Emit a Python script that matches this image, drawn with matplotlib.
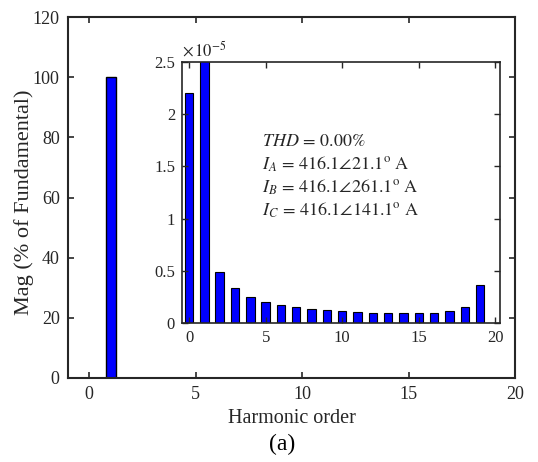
import matplotlib
matplotlib.use("Agg")
import matplotlib.pyplot as plt
import numpy as np

plt.rcParams['font.family'] = ['Liberation Serif', 'DejaVu Serif']
plt.rcParams['mathtext.fontset'] = 'stix'

# Main spectrum (% of fundamental)
main_orders = [1]
main_mag = [100]

# Inset spectrum (values in units of 1e-5 %)
inset_orders = list(range(20))
inset_mag = [2.2, 2.7, 0.487, 0.334, 0.25, 0.204, 0.172, 0.153, 0.134, 0.121,
             0.111, 0.102, 0.099, 0.096, 0.092, 0.092, 0.099, 0.111, 0.153, 0.366]

main_xticks = [0, 5, 10, 15, 20]
main_yticks = [0, 20, 40, 60, 80, 100, 120]
inset_xticks = [0, 5, 10, 15, 20]
inset_yticks = [0, 0.5, 1, 1.5, 2, 2.5]
inset_yticklabels = ['0', '0.5', '1', '1.5', '2', '2.5']

W, H = 538, 462
fig = plt.figure(figsize=(W/100, H/100), dpi=100)

def rect(l, t, r, b):
    return [l/W, 1 - b/H, (r - l)/W, (b - t)/H]

ax = fig.add_axes(rect(68, 17, 515, 378))
ax.bar(main_orders, main_mag, width=0.47, color='#0000ff', edgecolor='black', linewidth=1)
ax.set_xlim(-1, 20)
ax.set_ylim(0, 120)
ax.set_xticks(main_xticks)
ax.set_yticks(main_yticks)
ax.tick_params(direction='in', top=True, right=True, labelsize=13, length=4, width=1.2, pad=6,
               colors='#262626')
for s in ax.spines.values():
    s.set_linewidth(1.5)
    s.set_color('#262626')
ax.set_xlabel('Harmonic order', fontsize=14.5, color='#262626', labelpad=4)
fig.text(24/W, 1 - 202/H, 'Mag (% of Fundamental)', fontsize=16, rotation=90,
         ha='center', va='center', color='#262626')
fig.text(282/W, 1 - 444/H, '(a)', fontsize=17, ha='center', va='center')

ins = fig.add_axes(rect(182, 62, 500, 323))
ins.bar(inset_orders, inset_mag, width=0.55, color='#0000ff', edgecolor='black', linewidth=0.8)
ins.set_xlim(-0.46, 20.3)
ins.set_ylim(0, 2.5)
ins.set_xticks(inset_xticks)
ins.set_yticks(inset_yticks)
ins.set_yticklabels(inset_yticklabels)
ins.tick_params(direction='in', top=True, right=True, labelsize=12, length=4, width=1.0, pad=5,
                colors='#262626')
for s in ins.spines.values():
    s.set_linewidth(1.2)
    s.set_color('#262626')
ins.text(0.0, 1.005, r'$\times\,10^{-5}$', transform=ins.transAxes, fontsize=12,
         ha='left', va='bottom', color='#262626')

lines = [r'$THD\,=\,0.00\%$',
         r'$I_A\,=\,416.1\angle 21.1^{\mathrm{o}}\ \mathrm{A}$',
         r'$I_B\,=\,416.1\angle 261.1^{\mathrm{o}}\ \mathrm{A}$',
         r'$I_C\,=\,416.1\angle 141.1^{\mathrm{o}}\ \mathrm{A}$']
for i, t in enumerate(lines):
    ins.text((262 - 182)/318, 1 - (141 + 23*i - 62)/261, t, transform=ins.transAxes,
             fontsize=13, ha='left', va='center', color='#262626')

fig.savefig('out.png', dpi=100)
